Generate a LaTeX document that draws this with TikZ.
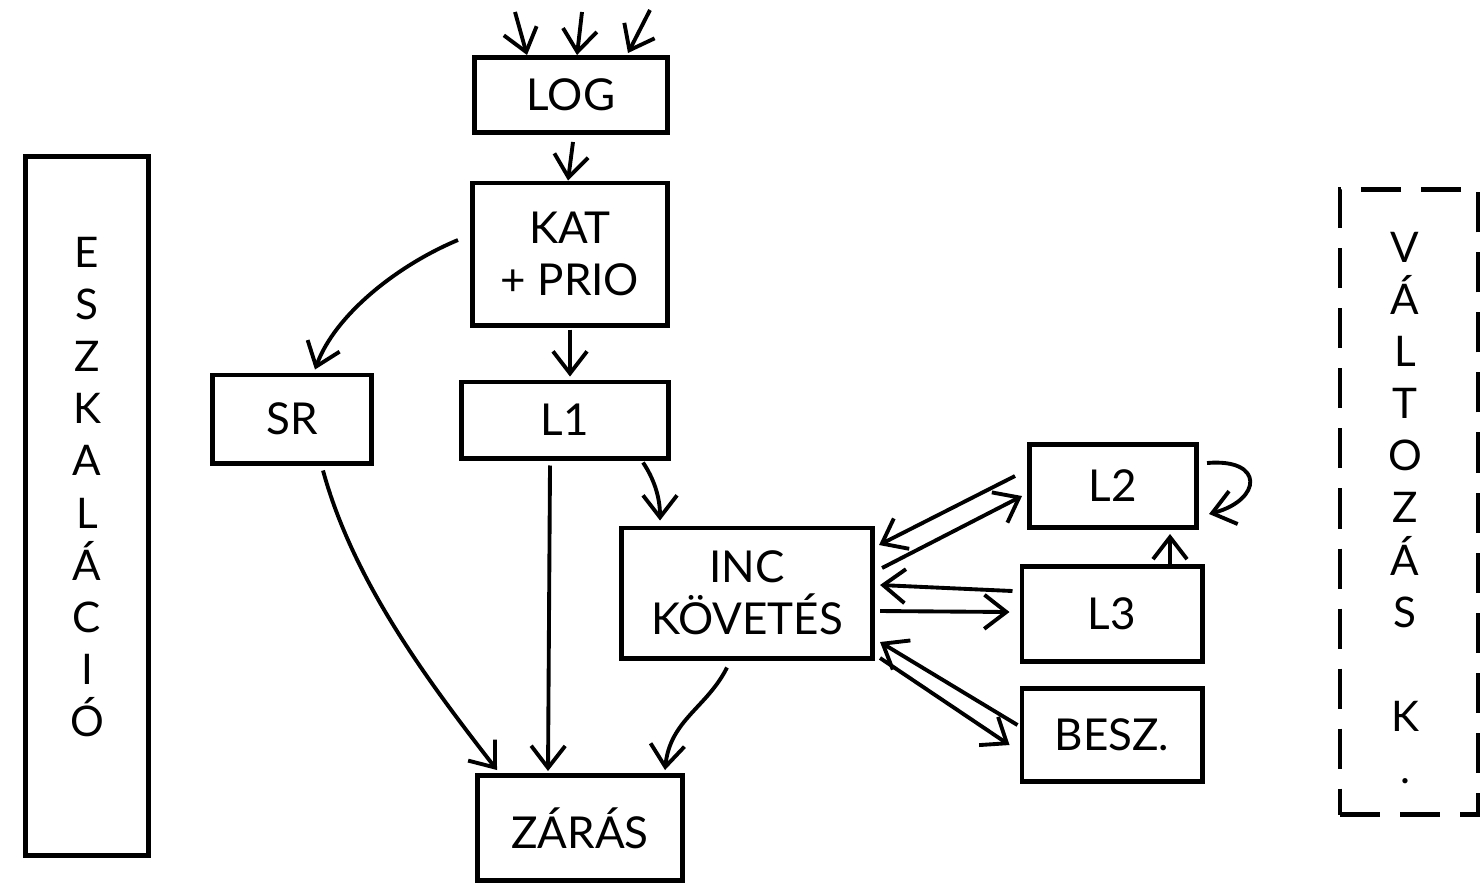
\documentclass[tikz,border=0pt]{standalone}
\usepackage{fontspec}
\setmainfont{Lato}
\usetikzlibrary{arrows.meta,calc}
\tikzset{
  box/.style={draw, line width=1.4pt, inner sep=0pt, align=center,
    font=\fontsize{12.5}{14.8}\selectfont},
  sidebox/.style={draw, line width=1.4pt, inner sep=0pt},
  letters/.style={align=center, inner sep=0pt, font=\fontsize{12}{14.8}\selectfont},
  flow/.style={-{Straight Barb[length=2.2mm,width=3.4mm]}, line width=1.1pt},
}
\begin{document}
\begin{tikzpicture}[x=0.01cm,y=-0.01cm]
    \useasboundingbox (0,0) rectangle (1480,884);

    % Side columns
    \node[sidebox, minimum width=1.23cm, minimum height=6.98cm] (eszk) at (87,506) {};
    \node[letters] (eszktext) at (87,487) {E\\S\\Z\\K\\A\\L\\Á\\C\\I\\Ó};
    \node[sidebox, dashed, dash pattern=on 0.4cm off 0.2cm,
          minimum width=1.38cm, minimum height=6.25cm] (valt) at (1409,502) {};
    \node[letters] (valttext) at (1405,508) {V\\Á\\L\\T\\O\\Z\\Á\\S\\[14.8pt]K\\.};

    % Boxes
    \node[box, minimum width=1.93cm, minimum height=0.75cm] (log) at (571,95) {LOG};
    \node[box, minimum width=1.95cm, minimum height=1.42cm] (kat) at (570,254) {KAT\\+ PRIO};
    \node[box, minimum width=1.58cm, minimum height=0.88cm] (sr) at (292,419) {SR};
    \node[box, minimum width=2.06cm, minimum height=0.76cm] (l1) at (565,420) {L1};
    \node[box, minimum width=2.51cm, minimum height=1.30cm] (inc) at (747,593) {INC\\KÖVETÉS};
    \node[box, minimum width=1.67cm, minimum height=0.83cm] (l2) at (1113,486) {L2};
    \node[box, minimum width=1.80cm, minimum height=0.95cm] (l3) at (1112,614) {L3};
    \node[box, minimum width=1.80cm, minimum height=0.93cm] (besz) at (1112,735) {BESZ.};
    \node[box, minimum width=2.05cm, minimum height=1.05cm] (zaras) at (580,828) {ZÁRÁS};

    % Incoming logs
    \coordinate (in1) at (515,12);
    \coordinate (in2) at (582,12);
    \coordinate (in3) at (650,10);
    \draw[flow] (in1) -- ($(log.north)+(-44,0)$);
    \draw[flow] (in2) -- ($(log.north)+(6,0)$);
    \draw[flow] (in3) -- ($(log.north)+(57,-2)$);

    % Main flow
    \draw[flow] ($(log.south)+(2,7)$) -- ($(kat.north)+(-2,0)$);
    \draw[flow] ($(kat.west)+(-12,-14)$) .. controls +(-60,25) and +(20,-55) .. ($(sr.north)+(23,-3)$);
    \draw[flow] ($(kat.south)+(0,2)$) -- ($(l1.north)+(5,-3)$);
    \draw[flow] ($(l1.south)+(78,2)$) .. controls +(10,15) and +(0,-25) .. ($(inc.north)+(-87,-5)$);
    \draw[flow] ($(sr.south)+(31,5)$) .. controls +(30,110) and +(-70,-90) .. ($(zaras.north)+(-83,-3)$);
    \draw[flow] ($(l1.south)+(-15,5)$) -- ($(zaras.north)+(-32,-2)$);
    \draw[flow] ($(inc.south)+(-20,7)$) .. controls +(-20,40) and +(5,-50) .. ($(zaras.north)+(85,-3)$);

    % INC <-> levels
    \draw[flow] ($(l2.west)+(-12,-10)$) -- ($(inc.east)+(4,-48)$);
    \draw[flow] ($(inc.east)+(7,-25)$) -- ($(l2.west)+(-5,10)$);
    \draw[flow] ($(l3.west)+(-7,-23)$) -- ($(inc.east)+(5,-8)$);
    \draw[flow] ($(inc.east)+(5,18)$) -- ($(l3.west)+(-10,-2)$);
    \draw[flow] ($(besz.west)+(-2,-10)$) -- ($(inc.east)+(5,49)$);
    \draw[flow] ($(inc.east)+(5,65)$) -- ($(besz.west)+(-10,10)$);

    % L3 -> L2 and L2 loop
    \draw[flow] ($(l3.north)+(58,0)$) -- ($(l2.south)+(57,4)$);
    \draw[flow] ($(l2.east)+(8,-23)$) .. controls +(58,-5) and +(53,-14) .. ($(l2.east)+(10,28)$);
\end{tikzpicture}
\end{document}
